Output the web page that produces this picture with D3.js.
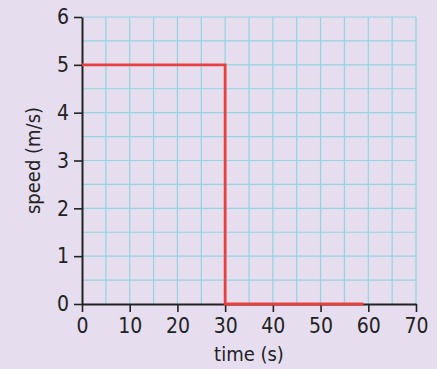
<!DOCTYPE html>
<html>
<head>
<meta charset="utf-8">
<script src="https://cdn.jsdelivr.net/npm/d3@7"></script>
<style>
  body { margin: 0; background: #e6ddef; }
  svg { display: block; }
</style>
</head>
<body>
<div id="chart"></div>
<script>
// speed-time data (time in s, speed in m/s)
const timeValues = [0, 30, 30, 59];
const speedValues = [5, 5, 0, 0];
const xTicks = [0, 10, 20, 30, 40, 50, 60, 70];
const yTicks = [0, 1, 2, 3, 4, 5, 6];

const width = 437, height = 369;
const margin = { left: 82, right: 21, top: 17, bottom: 65 };

const svg = d3.select("#chart").append("svg")
    .attr("width", width)
    .attr("height", height);

svg.append("rect")
    .attr("width", width)
    .attr("height", height)
    .attr("fill", "#e6ddef");

const x = d3.scaleLinear().domain([0, 70]).range([margin.left, width - margin.right]);
const y = d3.scaleLinear().domain([0, 6]).range([height - margin.bottom, margin.top]);

// grid
const grid = svg.append("g").attr("stroke", "#8fd6e0").attr("stroke-width", 1.2);
grid.selectAll(".vg")
    .data(d3.range(5, 71, 5))
    .enter().append("line")
    .attr("x1", d => x(d)).attr("x2", d => x(d))
    .attr("y1", y(0)).attr("y2", y(6));
grid.selectAll(".hg")
    .data(d3.range(0.5, 6.01, 0.5))
    .enter().append("line")
    .attr("y1", d => y(d)).attr("y2", d => y(d))
    .attr("x1", x(0)).attr("x2", x(70));

const font = "'DejaVu Sans Condensed', 'DejaVu Sans', sans-serif";

// x axis
const xAxis = svg.append("g")
    .attr("transform", `translate(0,${y(0)})`)
    .call(d3.axisBottom(x).tickValues(xTicks).tickFormat(d3.format("d"))
        .tickSize(8).tickPadding(6).tickSizeOuter(0));
// y axis
const yAxis = svg.append("g")
    .attr("transform", `translate(${x(0)},0)`)
    .call(d3.axisLeft(y).tickValues(yTicks).tickFormat(d3.format("d"))
        .tickSize(8).tickPadding(5).tickSizeOuter(0));

[xAxis, yAxis].forEach(a => {
    a.select(".domain").attr("stroke", "#222").attr("stroke-width", 2);
    a.selectAll(".tick line").attr("stroke", "#222").attr("stroke-width", 1.6);
    a.selectAll(".tick text")
        .attr("fill", "#222")
        .style("font-family", font)
        .style("font-size", "21px");
});

// speed line
const line = d3.line().x((d, i) => x(timeValues[i])).y((d, i) => y(speedValues[i]));
svg.append("path")
    .datum(timeValues)
    .attr("d", line)
    .attr("fill", "none")
    .attr("stroke", "#e8403f")
    .attr("stroke-width", 2.8);

// axis titles
svg.append("text")
    .attr("x", (x(0) + x(70)) / 2)
    .attr("y", 361)
    .attr("text-anchor", "middle")
    .style("font-family", font)
    .style("font-size", "20px")
    .attr("fill", "#222")
    .text("time (s)");

svg.append("text")
    .attr("transform", `translate(40,${(y(0) + y(6)) / 2}) rotate(-90)`)
    .attr("text-anchor", "middle")
    .style("font-family", font)
    .style("font-size", "20px")
    .attr("fill", "#222")
    .text("speed (m/s)");
</script>
</body>
</html>
